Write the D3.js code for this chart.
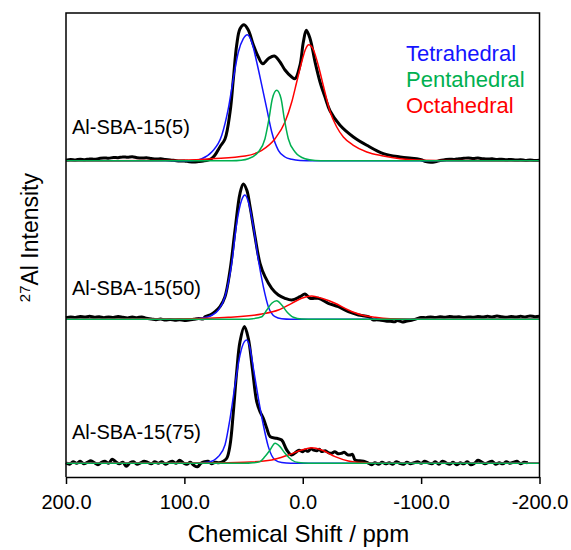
<!DOCTYPE html>
<html>
<head>
<meta charset="utf-8">
<script src="https://cdn.jsdelivr.net/npm/d3@7"></script>
<style>
  html, body { margin: 0; padding: 0; background: #fff; }
  svg { display: block; font-family: "Liberation Sans", Arial, sans-serif; }
</style>
</head>
<body>
<svg id="chart" width="571" height="550"></svg>
<script>
// 27Al MAS NMR spectra of Al-SBA-15 samples with fitted Al coordination components.
// Each series: [chemical shift (ppm), intensity (a.u.)]

const sampleNames = ["Al-SBA-15(5)", "Al-SBA-15(50)", "Al-SBA-15(75)"];
const siteNames = ["Tetrahedral", "Pentahedral", "Octahedral"];
const siteColors = ["#1414ff", "#00b050", "#ff0000"];

const xTicks = [200, 100, 0, -100, -200];
const xTickLabels = ["200.0", "100.0", "0.0", "-100.0", "-200.0"];

// --- Al-SBA-15(5) ---
const spec5 = [
  [200,0.5],[196,1.2],[192,0.8],[188,1.5],[184,1.0],[180,1.8],[176,1.4],[172,2.2],[168,2.8],[164,2.4],
  [160,3.2],[156,3.0],[152,3.8],[148,3.4],[144,3.9],[140,3.0],[136,2.6],[132,2.9],[128,2.2],[124,1.6],
  [120,1.9],[116,1.2],[112,0.8],[108,0.2],[104,-0.4],[100,-0.2],[96,-1.0],[92,-1.4],[88,-0.9],[84,-0.3],
  [80,0.6],[77,2.2],[74.1,5.7],[69.9,14],[65.7,21.7],[61.4,48.7],[58.6,82],[55.8,115.7],[53.0,132],
  [49.6,136],[46.0,130.7],[41.7,115.7],[37.5,103.7],[33.8,97],[29.1,102],[24.0,104.7],[19.2,98.7],
  [15.0,90.7],[9.3,83.7],[6.5,82],[2.3,95.7],[-0.5,118.7],[-3.0,130.4],[-6.2,122],[-10.4,98.7],
  [-14.6,78.7],[-18.8,63.7],[-23.1,49.7],[-31.5,35.4],[-42.8,23.7],[-54.1,15.4],[-68.1,7],[-82.2,3.7],
  [-96.3,2],[-100,1.0],[-104,-0.8],[-108,-1.5],[-112,-1.0],[-116,0.2],[-120,0.9],[-124,1.5],[-128,1.2],
  [-132,2.0],[-136,2.4],[-140,2.8],[-144,2.2],[-148,2.6],[-152,2.0],[-156,1.6],[-160,2.0],[-164,1.2],
  [-168,1.5],[-172,0.9],[-176,1.3],[-180,0.6],[-184,1.0],[-188,0.3],[-192,0.8],[-196,0.2],[-200,0.5]
];
const tet5 = [[200,0],[100,0],[90,0.5],[85.3,2],[76.9,8.7],[68.4,25.4],[62.9,52],[58.6,82],[54.4,108.7],
  [50.2,122],[46.8,126],[43.1,118.7],[38.9,98.7],[34.6,75.4],[30.4,52],[26.2,28.7],[20.6,10.4],[15.0,3.7],
  [9.3,1.4],[2.3,0.3],[-10,0],[-200,0]];
const pent5 = [[200,0],[60,0],[52,0.5],[46.0,2],[37.5,8.7],[31.9,22],[28.5,42],[25.7,62],[22.0,70.4],
  [18.3,62],[15.6,42],[12.2,22],[6.5,8.7],[-1.9,2],[-10.4,0.3],[-20,0],[-200,0]];
const oct5 = [[200,0],[120,0.3],[90,1],[76.9,2],[48.7,4.7],[34.6,10.4],[23.4,22],[15.0,38.7],[9.3,58.7],
  [5.1,78.7],[0.9,98.7],[-2.5,112],[-5.0,116],[-9.0,111],[-13.2,95],[-17.4,75],[-23.1,49],[-28.7,33.7],
  [-34.3,23.7],[-42.8,15.4],[-54.1,8.7],[-68.1,4.7],[-82.2,2],[-96.3,0.7],[-120,0.2],[-200,0]];

// --- Al-SBA-15(50) ---
const spec50 = [
  [200,1.5],[196,2.4],[192,1.8],[188,2.8],[184,2.2],[180,3.0],[176,2.0],[172,2.6],[168,1.6],[164,2.4],
  [160,1.8],[156,2.8],[152,2.0],[148,1.4],[144,2.2],[140,1.6],[136,2.4],[132,1.0],[128,0.4],[124,-0.4],
  [120,0.2],[116,-0.8],[112,-0.2],[108,-1.0],[104,-0.4],[100,-1.2],[96,-0.6],[92,0.0],[88,0.8],[84,0.4],
  [82.6,2.6],[78,4.5],[74.1,7.6],[69.9,12.6],[65.7,22.6],[61.4,49.3],[57.2,89.3],[53.0,126],[50.2,135.3],
  [47.3,129.3],[44.5,112.6],[40.3,82.6],[36.1,56],[31.9,42.6],[26.2,31],[20.6,24.3],[15.0,21],[9.3,19.3],
  [2.3,22.6],[-1.9,25.3],[-6.2,21],[-13.2,21],[-21.6,16],[-30.1,12.6],[-38.5,7.6],[-47.0,4.3],[-55.4,2.6],
  [-59.7,-0.7],[-62,-0.5],[-66,-1.0],[-70,-1.6],[-74,-2.0],[-78,-2.4],[-80,-1.2],[-84,-2.6],[-88,-1.8],
  [-92,-1.0],[-96,0.4],[-100,1.8],[-104,1.6],[-108,2.4],[-112,1.8],[-116,2.6],[-120,2.0],[-124,2.8],
  [-128,2.2],[-132,2.6],[-136,1.8],[-140,2.4],[-144,2.0],[-148,2.8],[-152,2.2],[-156,3.0],[-160,2.4],
  [-164,3.2],[-168,2.6],[-172,2.0],[-176,2.8],[-180,2.2],[-184,3.0],[-188,2.4],[-192,3.4],[-196,2.6],[-200,3.0]
];
const tet50 = [[200,0],[95,0],[88,0.8],[79.8,2.6],[71.3,9.3],[65.7,22.6],[60.0,56],[55.8,96],[51.6,119.3],
  [48.8,124.3],[46.0,117.6],[41.7,92.6],[37.5,59.3],[33.3,32.6],[29.1,12.6],[23.4,2.6],[17.8,0.5],[10,0],[-200,0]];
const pent50 = [[200,0],[50,0],[42,0.6],[34.6,2.6],[30.4,9.3],[26.2,16],[22.0,18.6],[17.8,14.3],[13.5,7.6],
  [7.9,2],[0.9,0.3],[-10,0],[-200,0]];
const oct50 = [[200,0],[110,0.3],[80,1],[62.9,2],[34.6,5.3],[20.6,9.3],[9.3,16],[0.9,21],[-7.6,23.3],
  [-16.0,21],[-27.3,16],[-38.5,9.3],[-49.8,4.3],[-61.1,2],[-73.8,0.5],[-90,0],[-200,0]];

// --- Al-SBA-15(75) ---
const spec75 = [
  [200,0.5],[197,-1.0],[194,1.5],[191,0.0],[188,2.0],[185,-0.5],[182,1.0],[179,2.5],[176,0.5],[173,-1.5],
  [170,1.0],[167,2.0],[164,0.0],[161,4.0],[158,1.5],[155,-0.5],[152,1.0],[149,-3.0],[146,0.5],[143,1.5],
  [140,-1.0],[137,0.5],[134,2.0],[131,1.0],[128,-0.5],[125,1.5],[122,0.0],[119,1.5],[116,-1.0],[113,1.0],
  [110,2.0],[107,0.0],[104,3.0],[101,0.5],[98,-1.0],[95,1.0],[92,-2.0],[89,-3.5],[86,0.0],[83,1.5],
  [80,2.0],[77,-0.5],[74,1.0],[71,0.5],[67.1,2],[64.2,5],[61.4,18.3],[58.6,51.7],[55.8,91.7],[53.0,121.7],
  [49.3,136.7],[46.0,125],[42.6,95],[38.9,61.7],[36.1,51.7],[33.3,45],[30.4,35],[27.6,26.7],[22.0,25],
  [17.8,23.3],[13.5,13.3],[9.3,8.3],[5.1,11.7],[3,13],[0,11.5],[-1.9,13.3],[-4.5,12],[-7,14.5],[-9,13.3],
  [-12,12.5],[-14,14],[-16,11.7],[-19,12.5],[-22,10.5],[-24.5,10],[-27,11.5],[-30,9.5],[-32.9,10],[-35,11],
  [-38,8.5],[-40,8.3],[-42,9],[-44.2,3.3],[-48,2.5],[-52.6,1.7],[-55,0.5],[-58,-1.5],[-61,0.5],[-64,-1.0],
  [-67,1.0],[-70,-0.5],[-73,0.5],[-76,-1.0],[-79,1.5],[-82,0.0],[-85,-1.0],[-88,1.0],[-91,-0.5],[-94,0.5],
  [-97,1.5],[-100,0.0],[-103,2.0],[-106,0.5],[-109,-0.5],[-112,1.5],[-115,-1.0],[-118,2.0],[-121,0.5],
  [-124,-1.0],[-127,1.0],[-130,-1.5],[-133,0.5],[-136,-0.5],[-139,1.5],[-142,-1.5],[-145,0.0],[-148,3.0],
  [-151,1.5],[-154,-0.5],[-157,1.0],[-160,2.0],[-163,-1.0],[-166,0.5],[-169,-0.5],[-172,1.5],[-175,0.0],
  [-178,1.0],[-181,2.0],[-184,-0.5],[-187,1.0],[-190,0.5]
];
const tet75 = [[200,0],[95,0],[88,0.3],[79.8,1],[71.3,6.7],[65.7,18.3],[61.4,45],[57.2,78.3],[53.0,108.3],
  [49.3,121.7],[47.3,123.3],[44.5,115],[41.7,95],[37.5,65],[33.3,38.3],[29.1,16.7],[23.4,3.3],[17.8,0.7],[10,0],[-200,0]];
const pent75 = [[200,0],[50,0],[42,0.5],[36.1,1.7],[31.9,6.7],[27.6,13.3],[23.4,20],[19.2,16.7],[15.0,10],
  [9.3,3.3],[3.7,0.7],[-5,0],[-200,0]];
const oct75 = [[200,0],[80,0.3],[48.8,1],[26.2,3.3],[12.2,8.3],[0.9,13.3],[-7.6,15.5],[-16.0,13.3],
  [-27.3,6.7],[-38.5,2.3],[-49.8,0.7],[-60,0],[-200,0]];

const panels = [
  { name: sampleNames[0], spec: spec5,  fits: [tet5, pent5, oct5] },
  { name: sampleNames[1], spec: spec50, fits: [tet50, pent50, oct50] },
  { name: sampleNames[2], spec: spec75, fits: [tet75, pent75, oct75] }
];

// Layout
const W = 571, H = 550;
const plot = { left: 66, right: 539.5, top: 13, bottom: 477 };
const baselines = [160.7, 319.3, 463.3];
const panelHeight = 150;
const font = "'Liberation Sans', Arial, sans-serif";

const svg = d3.select("#chart");

const x = d3.scaleLinear().domain([200, -200]).range([plot.left, plot.right]);

// Draw spectra: experimental (black) first, fitted components on top; pentahedral last.
const drawOrder = [0, 2, 1];
panels.forEach((p, i) => {
  const y = d3.scaleLinear().domain([0, panelHeight]).range([baselines[i], baselines[i] - panelHeight]);
  const g = svg.append("g").attr("class", "panel");

  const lineSpec = d3.line().x(d => x(d[0])).y(d => y(d[1])).curve(d3.curveCatmullRom.alpha(0.5));
  const lineFit = d3.line().x(d => x(d[0])).y(d => y(d[1])).curve(d3.curveMonotoneX);

  g.append("path")
    .datum(p.spec)
    .attr("d", lineSpec)
    .attr("fill", "none")
    .attr("stroke", "#000")
    .attr("stroke-width", 3)
    .attr("stroke-linejoin", "round");

  drawOrder.forEach(k => {
    g.append("path")
      .datum(p.fits[k])
      .attr("d", lineFit)
      .attr("fill", "none")
      .attr("stroke", siteColors[k])
      .attr("stroke-width", 1.5);
  });

  g.append("text")
    .attr("x", 72)
    .attr("y", [134, 295, 438.5][i])
    .attr("font-size", 20)
    .attr("fill", "#000")
    .text(p.name);
});

// Frame: top, left and right edges
svg.append("path")
  .attr("d", `M${plot.left},${plot.bottom}V${plot.top}H${plot.right}V${plot.bottom}`)
  .attr("fill", "none")
  .attr("stroke", "#000")
  .attr("stroke-width", 1.5);

// Bottom axis
const xAxis = d3.axisBottom(x)
  .tickValues(xTicks)
  .tickFormat((d, i) => xTickLabels[i])
  .tickSize(7)
  .tickSizeOuter(0)
  .tickPadding(11);

const ax = svg.append("g")
  .attr("transform", `translate(0,${plot.bottom})`)
  .call(xAxis);
ax.select(".domain").attr("stroke", "#000").attr("stroke-width", 1.5);
ax.selectAll(".tick line").attr("stroke", "#000").attr("stroke-width", 1.5);
ax.selectAll(".tick text")
  .attr("font-family", font)
  .attr("font-size", 20)
  .attr("fill", "#000");

// Axis titles
svg.append("text")
  .attr("x", 298.5)
  .attr("y", 542)
  .attr("text-anchor", "middle")
  .attr("font-size", 24)
  .attr("fill", "#000")
  .text("Chemical Shift / ppm");

const yTitle = svg.append("text")
  .attr("transform", "rotate(-90)")
  .attr("x", -173)
  .attr("y", 38)
  .attr("text-anchor", "end")
  .attr("font-size", 23)
  .attr("fill", "#000");
yTitle.append("tspan").attr("font-size", 15).attr("dy", -8).text("27");
yTitle.append("tspan").attr("dy", 8).text("Al Intensity");

// Legend
const legend = svg.append("g");
siteNames.forEach((s, k) => {
  legend.append("text")
    .attr("x", 406)
    .attr("y", 61 + k * 26.2)
    .attr("font-size", 22)
    .attr("fill", siteColors[k])
    .text(s);
});
</script>
</body>
</html>
